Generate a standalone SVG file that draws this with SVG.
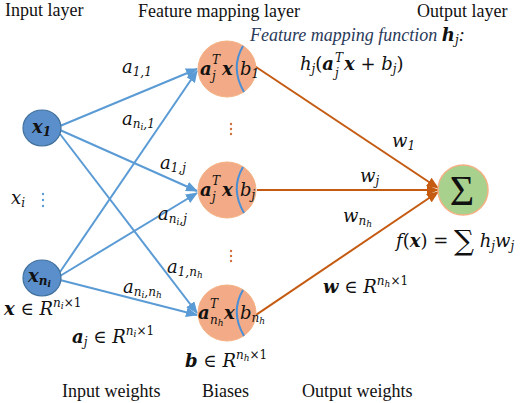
<svg xmlns="http://www.w3.org/2000/svg" width="526" height="403" viewBox="0 0 526 403">
<style>
.ttl{font-family:"Liberation Serif","Times New Roman",serif;font-size:18px;fill:#111}
.m{font-family:"DejaVu Serif","Liberation Serif",serif;font-style:italic;font-size:18px;fill:#111}
.mb{font-family:"DejaVu Serif","Liberation Serif",serif;font-style:italic;font-weight:bold;font-size:18px;fill:#111}
.s{font-size:12px}
.ss{font-size:9px}
.fm{font-family:"Liberation Serif","Times New Roman",serif;font-style:italic;font-size:18px;fill:#2a3a5a}
.in{fill:#5a8fcb;stroke:#41719c;stroke-width:1.2}
.hid{fill:#f2ab86;stroke:#f4b183;stroke-width:1}
.arc{fill:none;stroke:#4a8fd6;stroke-width:2}
.bl{stroke:#5b9bd5;stroke-width:2;fill:none}
.or{stroke:#c55a11;stroke-width:2;fill:none}
.dotb{fill:#5b9bd5}
.doto{fill:#d0703a}
</style>
<defs>
<marker id="ab" markerUnits="userSpaceOnUse" markerWidth="12" markerHeight="10" refX="11" refY="5" orient="auto"><path d="M0,0 L12,5 L0,10 z" fill="#5b9bd5"/></marker>
<marker id="ao" markerUnits="userSpaceOnUse" markerWidth="12" markerHeight="10" refX="11" refY="5" orient="auto"><path d="M0,0 L12,5 L0,10 z" fill="#c55a11"/></marker>
</defs>

<text class="ttl" x="5" y="16">Input layer</text>
<text class="ttl" x="138" y="17">Feature mapping layer</text>
<text class="ttl" x="417" y="17">Output layer</text>
<text class="ttl" x="62" y="397">Input weights</text>
<text class="ttl" x="202" y="397">Biases</text>
<text class="ttl" x="302" y="397">Output weights</text>

<g id="connectors">
<line class="bl" x1="60" y1="126" x2="197" y2="69" marker-end="url(#ab)"/>
<line class="bl" x1="60" y1="130" x2="197" y2="191" marker-end="url(#ab)"/>
<line class="bl" x1="60" y1="134" x2="197" y2="313" marker-end="url(#ab)"/>
<line class="bl" x1="60" y1="272" x2="197" y2="71" marker-end="url(#ab)"/>
<line class="bl" x1="60" y1="276" x2="197" y2="193" marker-end="url(#ab)"/>
<line class="bl" x1="60" y1="280" x2="197" y2="315" marker-end="url(#ab)"/>
<line class="or" x1="253" y1="65" x2="438" y2="188" marker-end="url(#ao)"/>
<line class="or" x1="257" y1="190" x2="438" y2="190" marker-end="url(#ao)"/>
<line class="or" x1="253" y1="317" x2="438" y2="192" marker-end="url(#ao)"/>
</g>

<g id="x1">
<ellipse class="in" cx="42" cy="128" rx="19" ry="18"/>
<text class="mb" x="32" y="133">x<tspan class="s" dy="3">1</tspan></text>
</g>
<g id="xni">
<ellipse class="in" cx="42" cy="278" rx="19" ry="18"/>
<text class="mb" x="28" y="282">x<tspan class="s" dy="3">n</tspan><tspan class="ss" dy="2">i</tspan></text>
</g>

<g id="h1">
<ellipse class="hid" cx="227" cy="69" rx="29" ry="28"/>
<path class="arc" d="M243,46 Q230,68 244,92"/>
<text class="mb" x="200" y="75" font-size="19">a</text>
<text class="m s" x="212" y="64">T</text>
<text class="m s" x="212" y="80">j</text>
<text class="mb" x="222" y="75" font-size="19">x</text>
<text class="m" x="240" y="75" font-size="19">b<tspan class="s" dy="3">1</tspan></text>
</g>
<g id="hj">
<ellipse class="hid" cx="227" cy="190" rx="29" ry="28"/>
<path class="arc" d="M243,167 Q230,189 244,213"/>
<text class="mb" x="200" y="196" font-size="19">a</text>
<text class="m s" x="212" y="185">T</text>
<text class="m s" x="212" y="201">j</text>
<text class="mb" x="222" y="196" font-size="19">x</text>
<text class="m" x="240" y="196" font-size="19">b<tspan class="s" dy="3">j</tspan></text>
</g>
<g id="hnh">
<ellipse class="hid" cx="227" cy="313" rx="29" ry="28"/>
<path class="arc" d="M243,290 Q230,312 244,336"/>
<text class="mb" x="198" y="319" font-size="19">a</text>
<text class="m s" x="210" y="308">T</text>
<text class="m s" x="210" y="324">n<tspan class="ss" dy="2">h</tspan></text>
<text class="mb" x="224" y="319" font-size="19">x</text>
<text class="m" x="240" y="319" font-size="19">b<tspan class="s" dy="3">n</tspan><tspan class="ss" dy="2">h</tspan></text>
</g>
<g id="out">
<circle cx="463" cy="190" r="25" fill="#a9d18e" stroke="#f4b183" stroke-width="1.5"/>
<text x="462" y="205" text-anchor="middle" font-family="Liberation Serif,serif" font-size="42" fill="#111">Σ</text>
</g>

<g id="dots">
<circle class="doto" cx="231" cy="124" r="1.2"/><circle class="doto" cx="231" cy="129" r="1.2"/><circle class="doto" cx="231" cy="134" r="1.2"/>
<circle class="doto" cx="231" cy="251" r="1.2"/><circle class="doto" cx="231" cy="256" r="1.2"/><circle class="doto" cx="231" cy="261" r="1.2"/>
<circle class="dotb" cx="43" cy="194" r="1.2"/><circle class="dotb" cx="43" cy="200" r="1.2"/><circle class="dotb" cx="43" cy="206" r="1.2"/>
</g>

<g id="labels">
<text class="m" x="11" y="204">x<tspan class="s" dy="3">i</tspan></text>
<text class="m" x="122" y="73">a<tspan class="s" dy="3">1,1</tspan></text>
<text class="m" x="122" y="125">a<tspan class="s" dy="3">n</tspan><tspan class="ss" dy="2">i</tspan><tspan class="s" dy="-2">,1</tspan></text>
<text class="m" x="160" y="169">a<tspan class="s" dy="3">1,j</tspan></text>
<text class="m" x="158" y="220">a<tspan class="s" dy="3">n</tspan><tspan class="ss" dy="2">i</tspan><tspan class="s" dy="-2">,j</tspan></text>
<text class="m" x="167" y="273">a<tspan class="s" dy="3">1,n</tspan><tspan class="ss" dy="2">h</tspan></text>
<text class="m" x="123" y="293">a<tspan class="s" dy="3">n</tspan><tspan class="ss" dy="2">i</tspan><tspan class="s" dy="-2">,n</tspan><tspan class="ss" dy="2">h</tspan></text>
<text class="m" x="392" y="147">w<tspan class="s" dy="3">1</tspan></text>
<text class="m" x="360" y="182">w<tspan class="s" dy="3">j</tspan></text>
<text class="m" x="343" y="222">w<tspan class="s" dy="3">n</tspan><tspan class="ss" dy="2">h</tspan></text>
<text class="m" x="4" y="315"><tspan font-weight="bold">x</tspan><tspan font-style="normal"> ∈ </tspan>R<tspan class="s" dy="-8">n</tspan><tspan class="ss" dy="2">i</tspan><tspan class="s" dy="-2" font-style="normal">×1</tspan></text>
<text class="m" x="72" y="343"><tspan font-weight="bold">a</tspan><tspan class="s" dy="3">j</tspan><tspan font-style="normal" dy="-3"> ∈ </tspan>R<tspan class="s" dy="-8">n</tspan><tspan class="ss" dy="2">i</tspan><tspan class="s" dy="-2" font-style="normal">×1</tspan></text>
<text class="m" x="185" y="367"><tspan font-weight="bold">b</tspan><tspan font-style="normal"> ∈ </tspan>R<tspan class="s" dy="-8">n</tspan><tspan class="ss" dy="2">h</tspan><tspan class="s" dy="-2" font-style="normal">×1</tspan></text>
<text class="m" x="323" y="293"><tspan font-weight="bold">w</tspan><tspan font-style="normal"> ∈ </tspan>R<tspan class="s" dy="-8">n</tspan><tspan class="ss" dy="2">h</tspan><tspan class="s" dy="-2" font-style="normal">×1</tspan></text>
<text class="fm" x="250" y="41">Feature mapping function <tspan class="mb" font-size="17" fill="#111">h</tspan><tspan class="m s" fill="#111" dy="3">j</tspan><tspan dy="-3" fill="#111">:</tspan></text>
<text class="m" x="300" y="70">h<tspan class="s" dy="3">j</tspan><tspan font-style="normal" dy="-3">(</tspan><tspan font-weight="bold">a</tspan></text>
<text class="m s" x="335" y="62">T</text>
<text class="m s" x="335" y="77">j</text>
<text class="m" x="344" y="70"><tspan font-weight="bold">x</tspan><tspan font-style="normal">  + </tspan>b<tspan class="s" dy="3">j</tspan><tspan font-style="normal" dy="-3">)</tspan></text>
<text class="m" x="396" y="247">f<tspan font-style="normal">(</tspan><tspan font-weight="bold">x</tspan><tspan font-style="normal">) = </tspan><tspan font-style="normal" font-size="28" dy="3">∑</tspan><tspan dy="-3"> h</tspan><tspan class="s" dy="3">j</tspan><tspan dy="-3">w</tspan><tspan class="s" dy="3">j</tspan></text>
</g>
</svg>
